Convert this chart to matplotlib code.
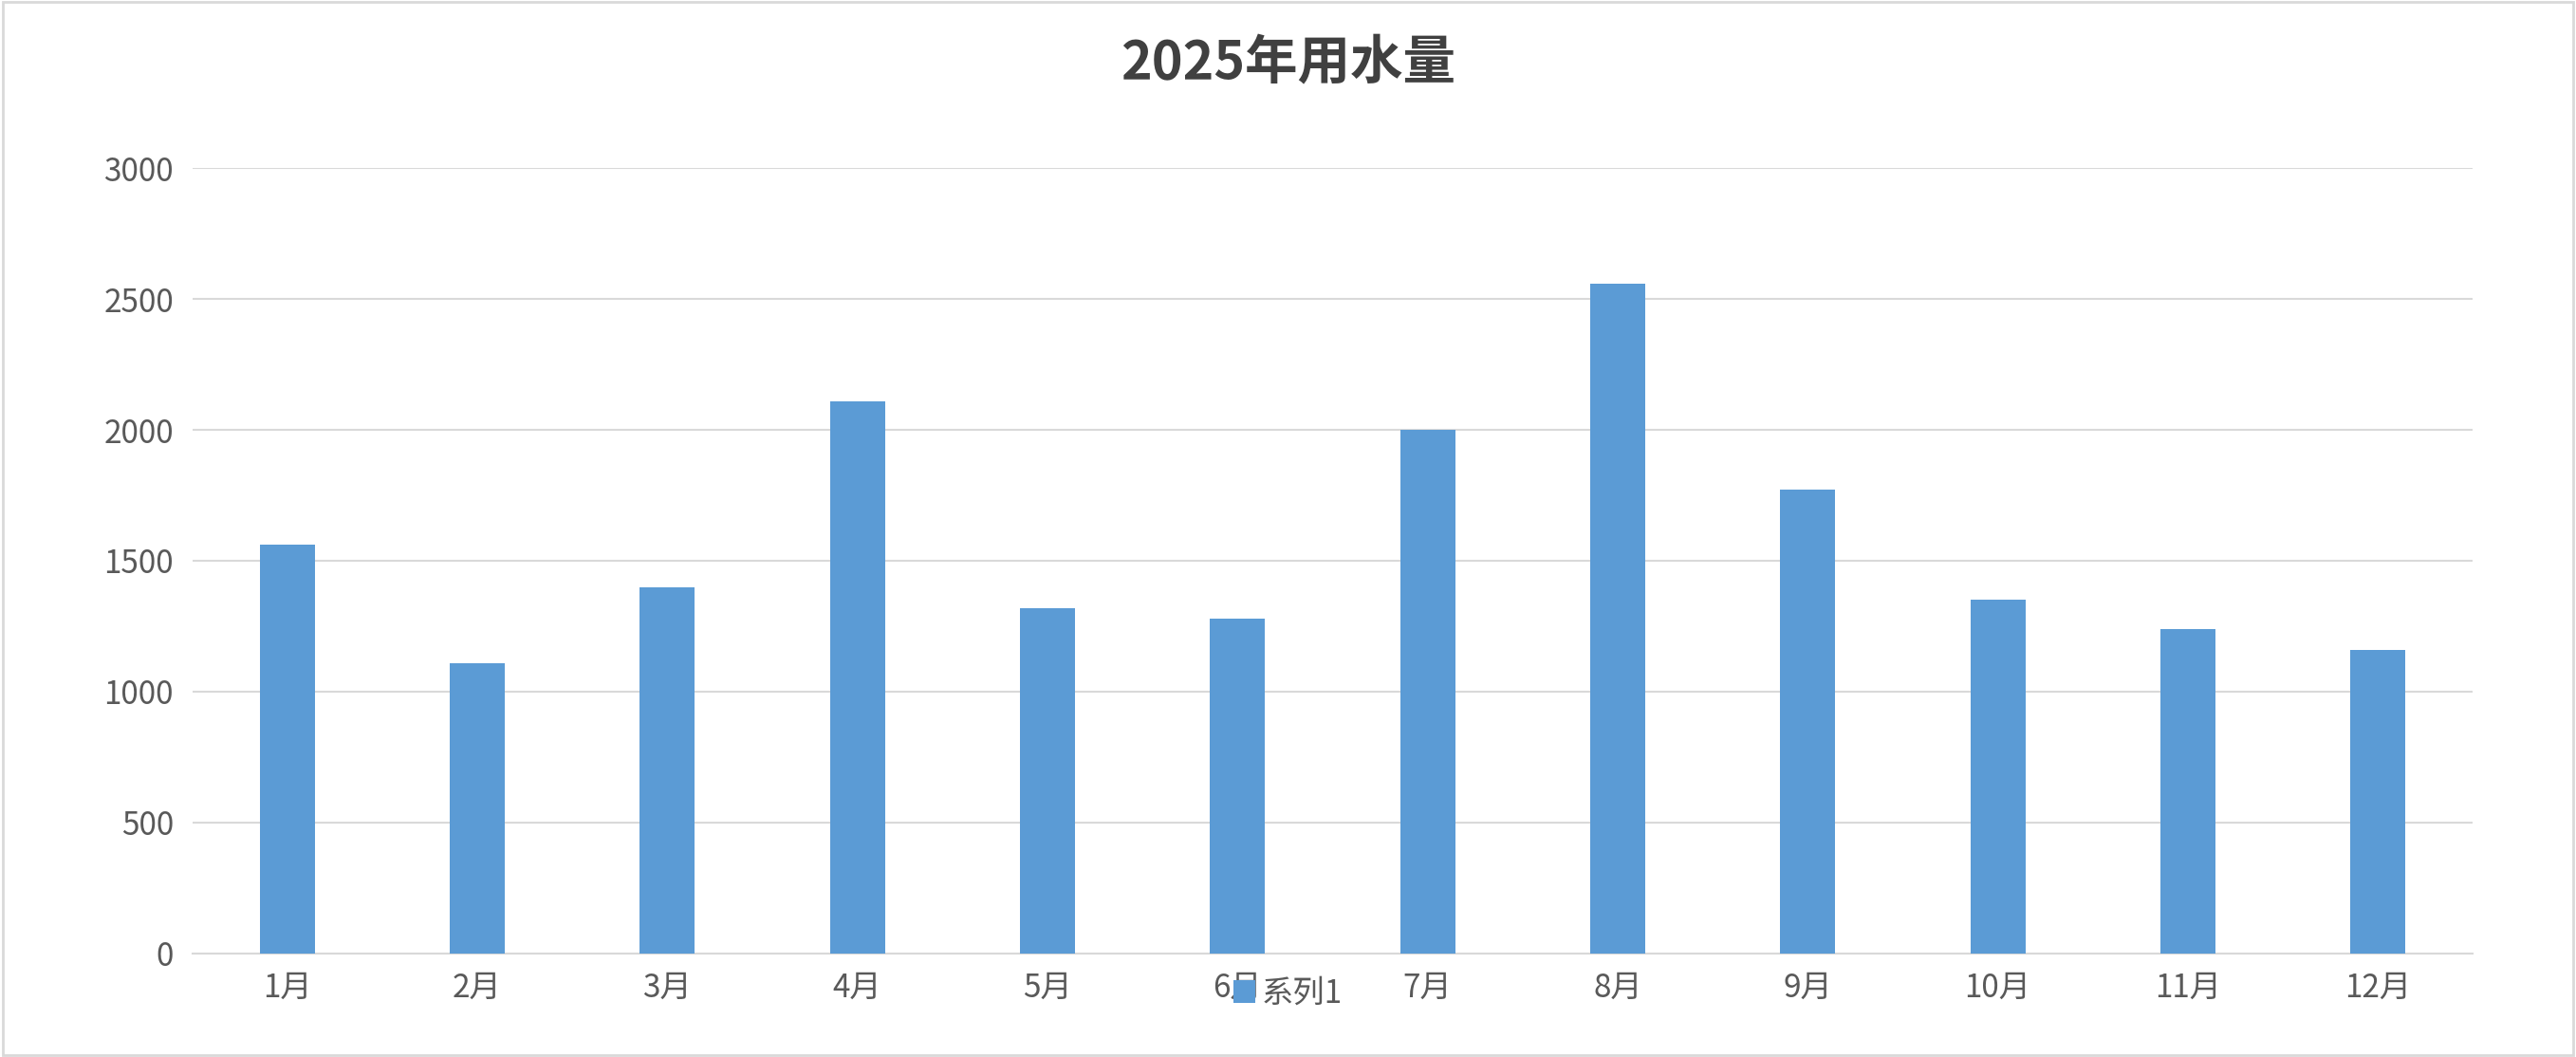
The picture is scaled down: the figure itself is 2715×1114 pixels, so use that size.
import matplotlib.pyplot as plt
from matplotlib.patches import Rectangle

plt.rcParams['font.family'] = ['Noto Sans CJK SC', 'DejaVu Sans']

months = ['1月', '2月', '3月', '4月', '5月', '6月', '7月', '8月', '9月', '10月', '11月', '12月']
usage = [1560, 1110, 1400, 2110, 1320, 1280, 2000, 2560, 1770, 1350, 1240, 1160]
yticks = [0, 500, 1000, 1500, 2000, 2500, 3000]

fig = plt.figure(figsize=(27.15, 11.14), dpi=100)
ax = fig.add_axes([0.0746, 0.098, 0.8854, 0.743])

bars = ax.bar(months, usage, width=0.29, color='#5B9BD5', label='系列1', zorder=3)
ax.set_ylim(0, 3000)
ax.set_xlim(-0.5, 11.5)
ax.set_yticks(yticks)
ax.grid(axis='y', color='#D9D9D9', linewidth=1.5, zorder=0)
for s in ['top', 'right', 'left']:
    ax.spines[s].set_visible(False)
ax.spines['bottom'].set_color('#D9D9D9')
ax.spines['bottom'].set_linewidth(1.5)
ax.tick_params(axis='both', length=0, labelsize=24, labelcolor='#595959', pad=14)

fig.suptitle('2025年用水量', fontsize=40, fontweight='bold', color='#404040', y=0.965)
fig.legend(handles=[bars], loc='center', bbox_to_anchor=(0.5, 0.06), frameon=False,
           fontsize=24, labelcolor='#595959', handlelength=0.7, handleheight=0.7,
           handletextpad=0.2)

fig.patches.append(Rectangle((0.001, 0.002), 0.998, 0.996, transform=fig.transFigure,
                             fill=False, edgecolor='#D9D9D9', linewidth=2))

fig.savefig('out.png')
